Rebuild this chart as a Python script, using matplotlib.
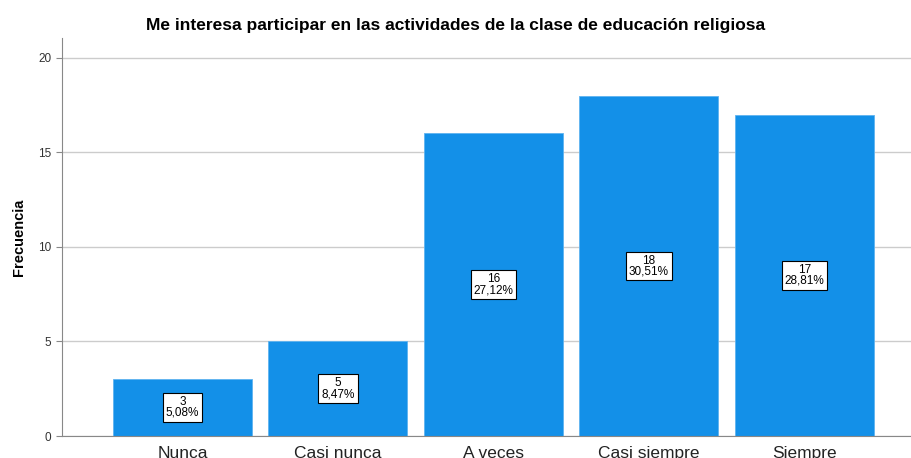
import numpy as np
import matplotlib.pyplot as plt

plt.rcParams['font.family'] = ['Liberation Sans', 'DejaVu Sans']

categorias = ['Nunca', 'Casi nunca', 'A veces', 'Casi siempre', 'Siempre']
frecuencia = [3, 5, 16, 18, 17]
porcentaje = ['5,08%', '8,47%', '27,12%', '30,51%', '28,81%']

fig = plt.figure(figsize=(9.11, 4.58), dpi=100)
ax = fig.add_axes([0.068, 0.048, 0.932, 0.869])

r = np.arange(len(categorias))
ax.bar(r, frecuencia, width=0.894, color='#1390e8', edgecolor='#5fb3f0', linewidth=0.6, zorder=2)

for i, (f, p) in enumerate(zip(frecuencia, porcentaje)):
    ax.text(i, f / 2, f'{f}\n{p}', ha='center', va='center', fontsize=8.5, linespacing=0.85,
            bbox=dict(boxstyle='square,pad=0.25', facecolor='white', edgecolor='black', linewidth=0.8),
            zorder=3)

ax.set_xlim(-0.775, 4.685)
ax.set_ylim(0, 21.05)
ax.set_yticks([0, 5, 10, 15, 20])
ax.set_xticks(r)
ax.set_xticklabels(categorias, fontsize=12.5, color='#222222')
ax.tick_params(axis='y', labelsize=8.5, colors='#333333', length=4, color='#888888')
ax.tick_params(axis='x', length=0, pad=7)
ax.yaxis.grid(True, color='#cccccc', linewidth=1, zorder=0)
ax.set_axisbelow(True)

for s in ['top', 'right']:
    ax.spines[s].set_visible(False)
ax.spines['left'].set_color('#888888')
ax.spines['bottom'].set_color('#888888')

ax.set_ylabel('Frecuencia', fontsize=10.5, fontweight='bold', labelpad=9)
fig.text(0.5, 0.945, 'Me interesa participar en las actividades de la clase de educación religiosa',
         ha='center', va='center', fontsize=12.5, fontweight='bold')

fig.savefig('out.png', dpi=100)
